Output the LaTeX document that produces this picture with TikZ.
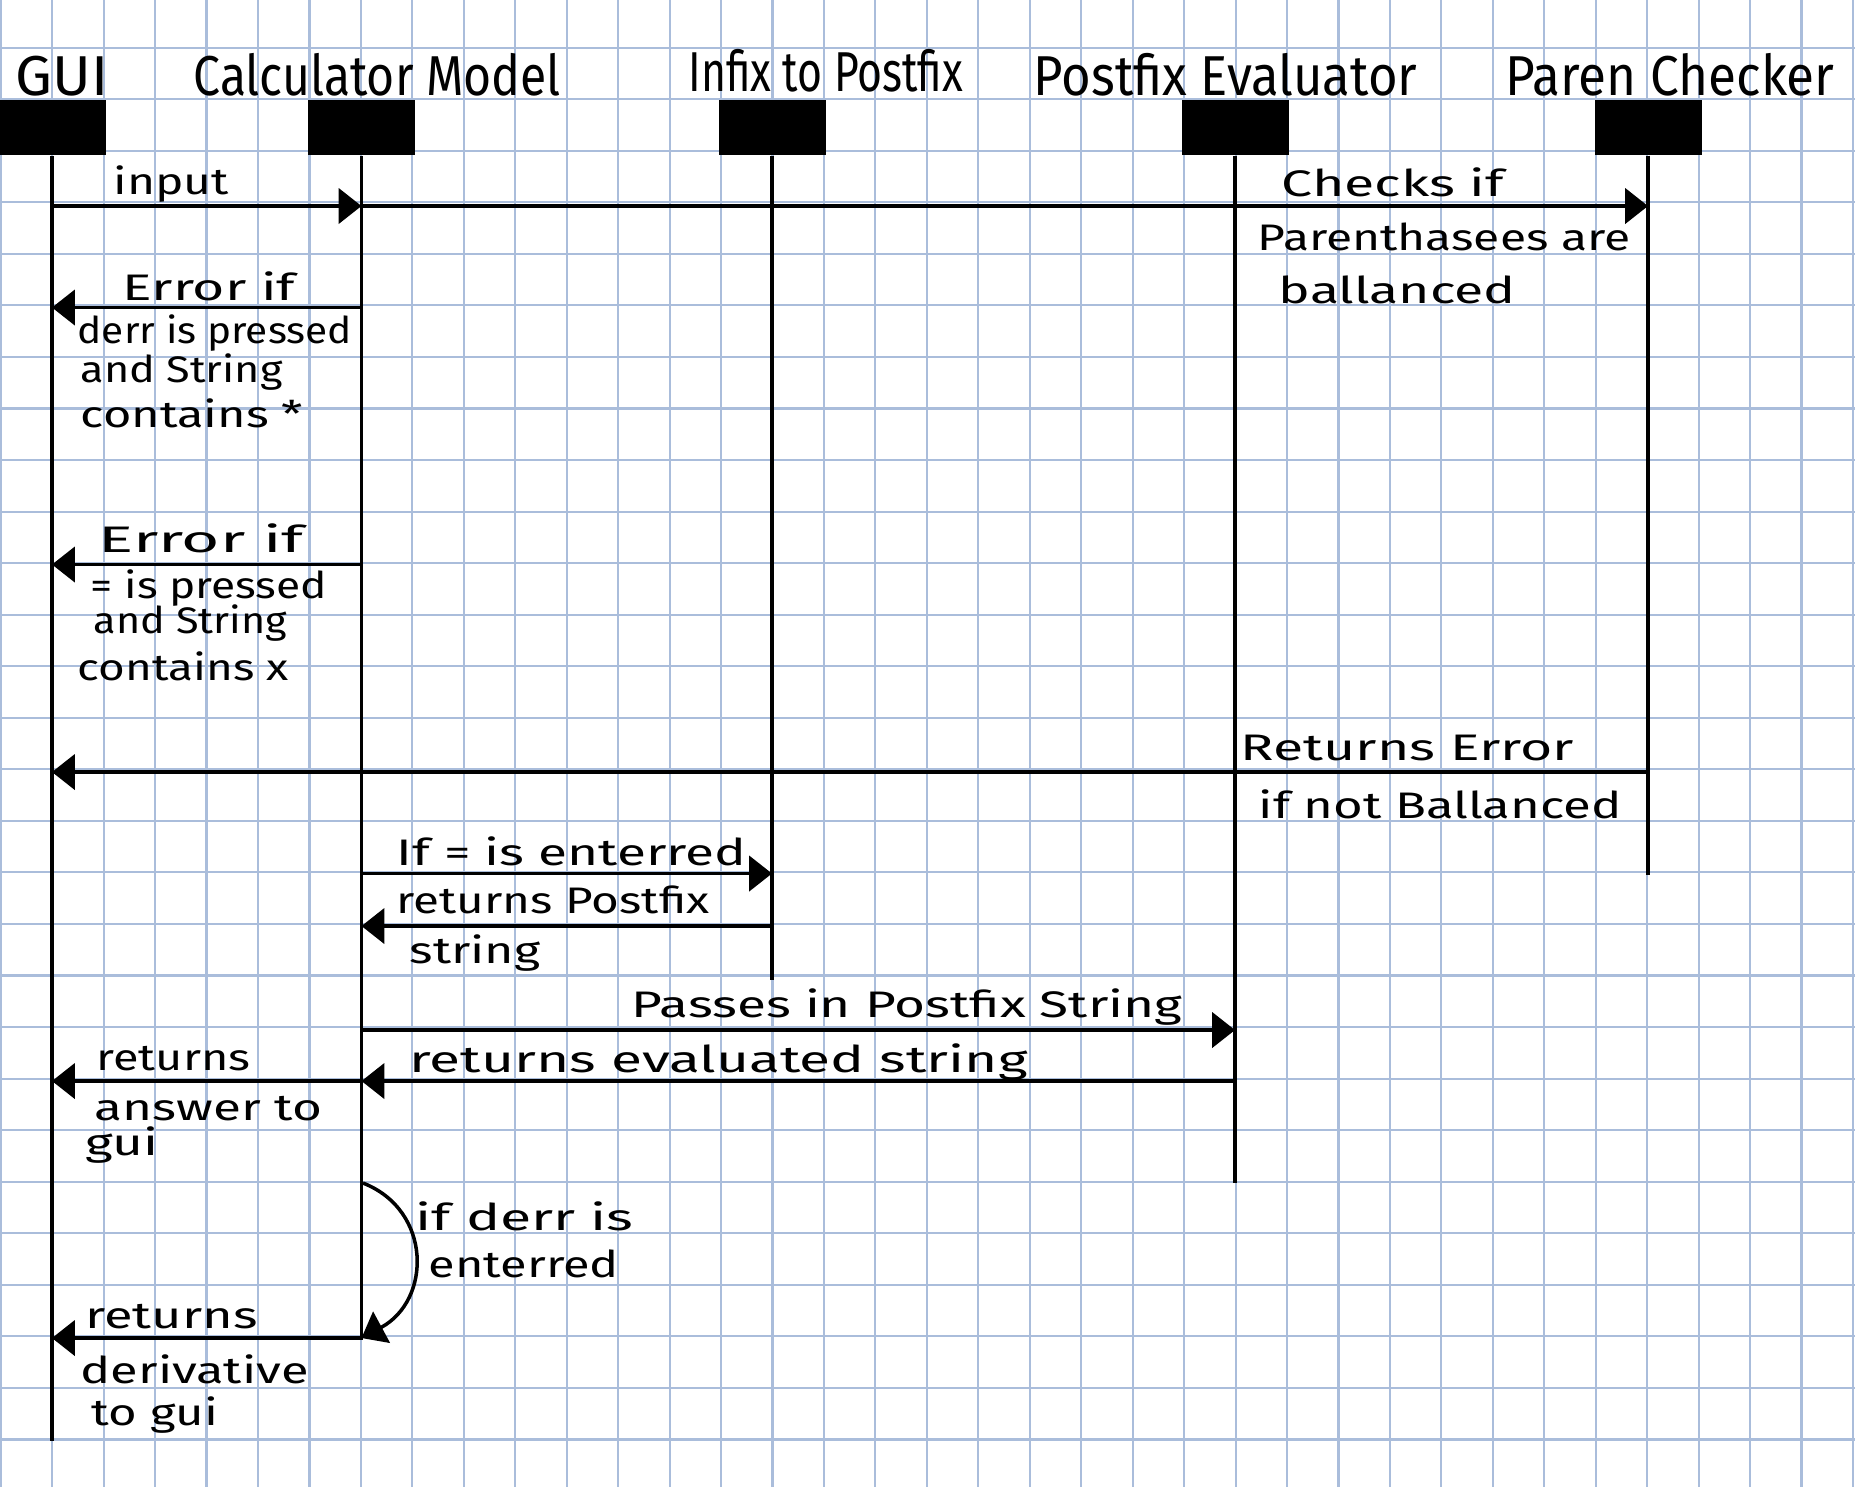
\documentclass[tikz,border=0pt]{standalone}
\usepackage{fontspec}
\setmainfont{Fira Sans}
\newfontfamily\ttlfont[FakeStretch=0.8]{Fira Sans}
\usetikzlibrary{arrows.meta}
\definecolor{gridc}{HTML}{AABDDB}
\newcommand{\hsx}[2]{\scalebox{#1}[1]{#2}}
\tikzset{
  gridline/.style={draw=gridc, line width=0.6pt},
  head/.style={fill=black, draw=none, minimum width=10.7mm, minimum height=5.5mm, inner sep=0pt},
  life/.style={line width=0.9pt},
  msg/.style={line width=1pt, -{Triangle[length=6.5pt,width=10pt]}},
  ttl/.style={anchor=base west, inner sep=0pt, font=\ttlfont\fontsize{16}{18}\selectfont},
  lbl/.style={anchor=base west, inner sep=0pt, font=\fontsize{10.5}{12}\selectfont},
}
\begin{document}
\begin{tikzpicture}[x=0.1mm,y=-0.1mm]
\useasboundingbox (0,0) rectangle (1855,1487);
\fill[white] (0,0) rectangle (1855,1487);
% grid
\foreach \k in {0,...,36} \draw[gridline] ({0.75+51.45*\k},0) -- ({0.75+51.45*\k},1487);
\foreach \j in {0,...,27} \draw[gridline] (0,{47.6+51.55*\j}) -- (1855,{47.6+51.55*\j});

% titles
\node[ttl] (tgui) at (15,95) {\hsx{1.3}{GUI}};
\node[ttl] (tcalc) at (193,95) {\hsx{1.07}{Calculator Model}};
\node[ttl] (tinf) at (688,91) {\hsx{0.95}{Infix to Postfix}};
\node[ttl] (tev) at (1033,95) {\hsx{1.13}{Postfix Evaluator}};
\node[ttl] (tpar) at (1505,95) {\hsx{1.14}{Paren Checker}};

% heads
\node[head] (gui) at (52,127.5) {};
\node[head] (calc) at (361.5,127.5) {};
\node[head] (inf) at (772,127.5) {};
\node[head] (ev) at (1235,127.5) {};
\node[head] (par) at (1648,127.5) {};

% lifeline ends
\coordinate (guiE) at (52,1441);
\coordinate (calcE) at (361.5,1340);
\coordinate (infE) at (772,980);
\coordinate (evE) at (1235,1183);
\coordinate (parE) at (1648,875);
\draw[life] (gui.south) -- (guiE);
\draw[life] (calc.south) -- (calcE);
\draw[life] (inf.south) -- (infE);
\draw[life] (ev.south) -- (evE);
\draw[life] (par.south) -- (parE);

% message points
\coordinate (g1) at (52,206);   \coordinate (c1) at (361.5,206); \coordinate (p1) at (1648,206);
\coordinate (c2) at (361.5,307.5); \coordinate (g2) at (52,307.5);
\coordinate (c3) at (361.5,564.5); \coordinate (g3) at (52,564.5);
\coordinate (p4) at (1648,772); \coordinate (g4) at (52,772);
\coordinate (c5) at (361.5,873.5); \coordinate (i5) at (772,873.5);
\coordinate (i6) at (772,926); \coordinate (c6) at (361.5,926);
\coordinate (c7) at (361.5,1030); \coordinate (e7) at (1235,1030);
\coordinate (e8) at (1235,1081); \coordinate (c8) at (361.5,1081); \coordinate (g8) at (52,1081);
\coordinate (c9) at (363,1183); \coordinate (c10) at (361.5,1338); \coordinate (g10) at (52,1338);

% messages
\draw[msg] (g1) -- (c1);
\draw[msg] (c1) -- (p1);
\draw[msg] (c2) -- (g2);
\draw[msg] (c3) -- (g3);
\draw[msg] (p4) -- (g4);
\draw[msg] (c5) -- (i5);
\draw[msg] (i6) -- (c6);
\draw[msg] (c7) -- (e7);
\draw[msg] (e8) -- (c8);
\draw[msg] (c8) -- (g8);
\draw[msg] (c9) .. controls (432,1210) and (432,1300) .. (c10);
\draw[msg] (c10) -- (g10);

% labels
\node[lbl] (l1) at (113,194) {\hsx{1.3}{input}};
\node[lbl] (l2a) at (1281,196) {\hsx{1.5}{Checks if}};
\node[lbl] (l2b) at (1257,250) {\hsx{1.3}{Parenthasees are}};
\node[lbl] (l2c) at (1278,303) {\hsx{1.45}{ballanced}};
\node[lbl] (l3a) at (122,300) {\hsx{1.5}{Error if}};
\node[lbl] (l3b) at (77,343) {\hsx{1.1}{derr is pressed}};
\node[lbl] (l3c) at (80,382) {\hsx{1.17}{and String}};
\node[lbl] (l3d) at (80,427) {\hsx{1.32}{contains *}};
\node[lbl] (l4a) at (98,552) {\hsx{1.78}{Error if}};
\node[lbl] (l4b) at (90,598) {\hsx{1.2}{= is pressed}};
\node[lbl] (l4c) at (93,633) {\hsx{1.12}{and String}};
\node[lbl] (l4d) at (77,680) {\hsx{1.24}{contains x}};
\node[lbl] (l5a) at (1240,760) {\hsx{1.5}{Returns Error}};
\node[lbl] (l5b) at (1258,818) {\hsx{1.38}{if not Ballanced}};
\node[lbl] (l6) at (396,865) {\hsx{1.44}{If = is enterred}};
\node[lbl] (l7a) at (396,913) {\hsx{1.29}{returns Postfix}};
\node[lbl] (l7b) at (409,963) {\hsx{1.36}{string}};
\node[lbl] (l8) at (631,1017) {\hsx{1.44}{Passes in Postfix String}};
\node[lbl] (l9) at (409,1072) {\hsx{1.54}{returns evaluated string}};
\node[lbl] (l10a) at (96,1070) {\hsx{1.27}{returns}};
\node[lbl] (l10b) at (94,1120) {\hsx{1.39}{answer to}};
\node[lbl] (l10c) at (85,1155) {\hsx{1.44}{gui}};
\node[lbl] (l11a) at (415,1230) {\hsx{1.55}{if derr is}};
\node[lbl] (l11b) at (428,1277) {\hsx{1.32}{enterred}};
\node[lbl] (l12a) at (85,1328) {\hsx{1.42}{returns}};
\node[lbl] (l12b) at (80,1383) {\hsx{1.37}{derivative}};
\node[lbl] (l12c) at (91,1425) {\hsx{1.33}{to gui}};
\end{tikzpicture}
\end{document}
